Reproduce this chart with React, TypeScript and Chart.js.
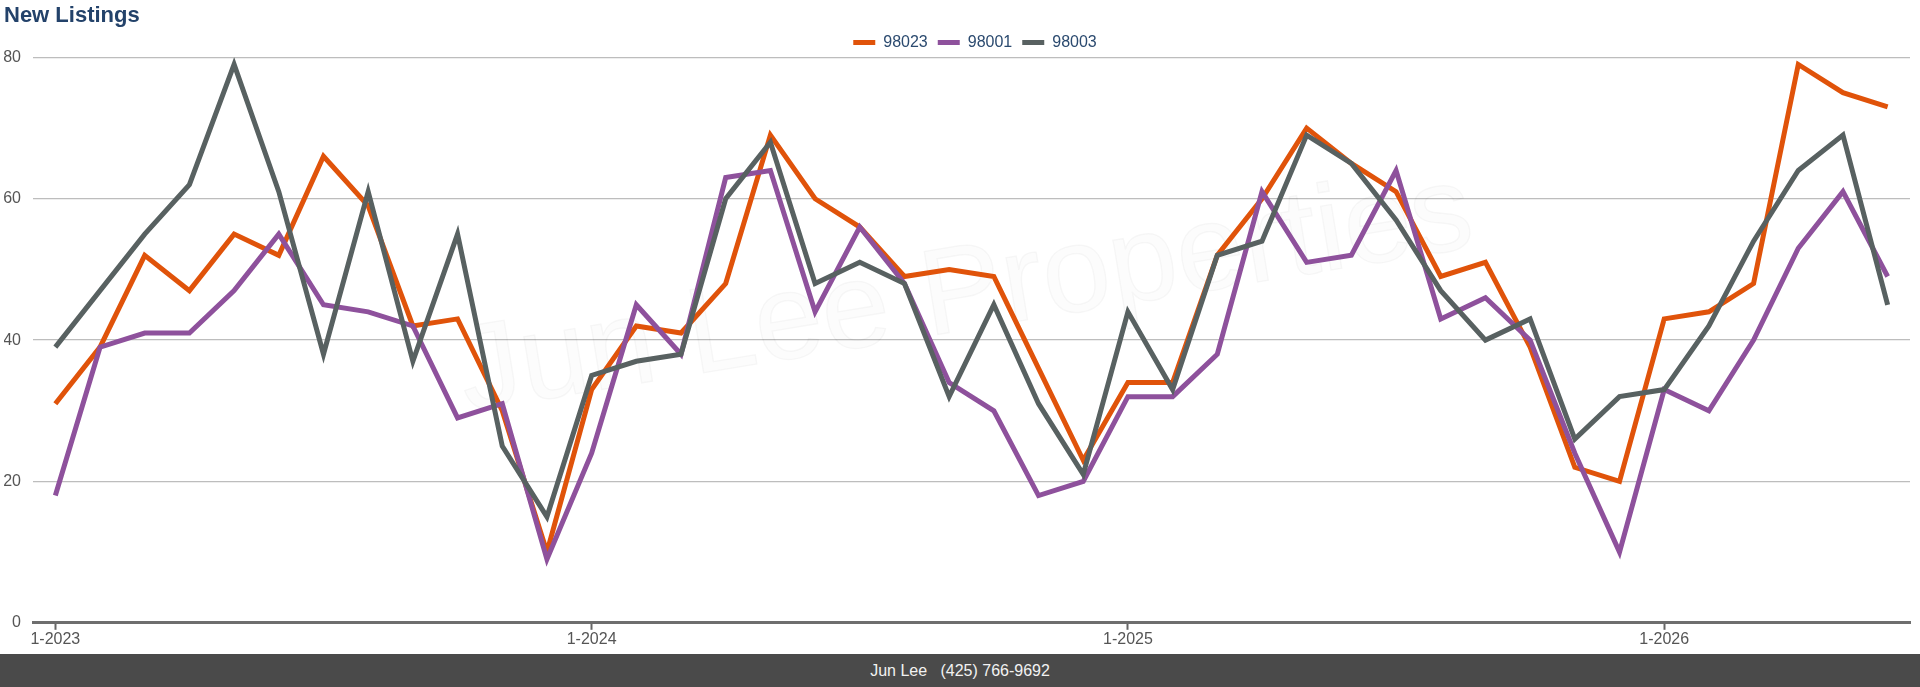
import React, { useEffect, useRef } from 'react';
import { Chart, registerables } from 'chart.js';

Chart.register(...registerables);

const monthLabels = [
  '1-2023', '2-2023', '3-2023', '4-2023', '5-2023', '6-2023', '7-2023', '8-2023', '9-2023', '10-2023', '11-2023', '12-2023',
  '1-2024', '2-2024', '3-2024', '4-2024', '5-2024', '6-2024', '7-2024', '8-2024', '9-2024', '10-2024', '11-2024', '12-2024',
  '1-2025', '2-2025', '3-2025', '4-2025', '5-2025', '6-2025', '7-2025', '8-2025', '9-2025', '10-2025', '11-2025', '12-2025',
  '1-2026', '2-2026', '3-2026', '4-2026', '5-2026', '6-2026',
];

const yearTickLabels = ['1-2023', '1-2024', '1-2025', '1-2026'];

const zip98023 = [
  31, 39, 52, 47, 55, 52, 66, 59, 42, 43, 30, 10,
  33, 42, 41, 48, 69, 60, 56, 49, 50, 49, 36, 23,
  34, 34, 52, 60, 70, 65, 61, 49, 51, 39, 22, 20,
  43, 44, 48, 79, 75, 73,
];

const zip98001 = [
  18, 39, 41, 41, 47, 55, 45, 44, 42, 29, 31, 9,
  24, 45, 38, 63, 64, 44, 56, 48, 34, 30, 18, 20,
  32, 32, 38, 61, 51, 52, 64, 43, 46, 40, 24, 10,
  33, 30, 40, 53, 61, 49,
];

const zip98003 = [
  39, 47, 55, 62, 79, 61, 38, 61, 37, 55, 25, 15,
  35, 37, 38, 60, 68, 48, 51, 48, 32, 45, 31, 21,
  44, 33, 52, 54, 69, 65, 57, 47, 40, 43, 26, 32,
  33, 42, 54, 64, 69, 45,
];

const seriesNames = ['98023', '98001', '98003'];
const seriesColors = ['#E0530A', '#8E519C', '#586161'];
const seriesValues = [zip98023, zip98001, zip98003];

const yMin = 0;
const yMax = 80;
const yStep = 20;

const titleText = 'New Listings';
const footerText = 'Jun Lee   (425) 766-9692';
const watermarkText = 'Jun Lee Properties';

const FONT = '"Liberation Sans", Arial, Helvetica, sans-serif';

const watermarkPlugin = {
  id: 'watermark',
  beforeDatasetsDraw(chart: any) {
    const ctx = chart.ctx as CanvasRenderingContext2D;
    const area = chart.chartArea;
    const cx = (area.left + area.right) / 2;
    const cy = area.top + (area.bottom - area.top) * 0.48;
    ctx.save();
    ctx.translate(cx, cy);
    ctx.rotate((-9.3 * Math.PI) / 180);
    ctx.font = `122px ${FONT}`;
    ctx.textAlign = 'center';
    ctx.textBaseline = 'alphabetic';
    ctx.fillStyle = 'rgba(0,0,0,0.012)';
    ctx.fillText(watermarkText, 0, 0);
    ctx.lineWidth = 1.5;
    ctx.strokeStyle = 'rgba(0,0,0,0.035)';
    ctx.strokeText(watermarkText, 0, 0);
    ctx.restore();
  },
};

const legendShiftPlugin = {
  id: 'legendShift',
  afterLayout(chart: any) {
    const lg = chart.legend;
    if (lg) {
      lg.left += 18;
      lg.right += 18;
    }
  },
};

export default function App() {
  const canvasRef = useRef<HTMLCanvasElement | null>(null);

  useEffect(() => {
    if (!canvasRef.current) return;
    const chart = new Chart(canvasRef.current, {
      type: 'line',
      data: {
        labels: monthLabels,
        datasets: seriesValues.map((vals, i) => ({
          label: seriesNames[i],
          data: vals,
          borderColor: seriesColors[i],
          backgroundColor: seriesColors[i],
          borderWidth: 5,
          pointRadius: 0,
          pointHoverRadius: 0,
          tension: 0,
          fill: false,
          order: seriesValues.length - i,
        })),
      },
      options: {
        animation: false,
        responsive: true,
        maintainAspectRatio: false,
        layout: { padding: { left: 4, right: 10, top: 0, bottom: 5 } },
        plugins: {
          tooltip: { enabled: false },
          title: {
            display: true,
            text: titleText,
            align: 'start',
            color: '#23426a',
            font: { family: FONT, size: 22, weight: 'bold' },
            padding: { top: 3, bottom: -5 },
          },
          legend: {
            display: true,
            position: 'top',
            align: 'center',
            maxHeight: 33,
            labels: {
              boxWidth: 22,
              boxHeight: 5,
              padding: 10,
              color: '#2b4a6f',
              font: { family: FONT, size: 16 },
              sort: (a: any, b: any) => a.datasetIndex - b.datasetIndex,
              generateLabels: (chart: any) => {
                const items = Chart.defaults.plugins.legend.labels.generateLabels(chart);
                return items.map((it: any) => ({ ...it, lineWidth: 0 }));
              },
            },
          },
        },
        scales: {
          x: {
            type: 'category',
            offset: true,
            grid: {
              offset: false,
              drawOnChartArea: false,
              drawTicks: true,
              tickLength: 7,
              tickWidth: 2,
              tickColor: (ctx: any) =>
                yearTickLabels.includes(monthLabels[ctx.index]) ? '#666666' : 'rgba(0,0,0,0)',
            },
            border: { display: true, color: '#6e6e6e', width: 3 },
            ticks: {
              autoSkip: false,
              maxRotation: 0,
              minRotation: 0,
              padding: 0,
              color: '#555555',
              font: { family: FONT, size: 16 },
              callback: (value: any) => {
                const lab = monthLabels[value as number];
                return yearTickLabels.includes(lab) ? lab : '';
              },
            },
          },
          y: {
            min: yMin,
            max: yMax,
            afterFit: (scale: any) => {
              scale.width = 29;
            },
            grid: {
              color: '#bdbdbd',
              lineWidth: 1.3,
              drawTicks: false,
            },
            border: { display: false },
            ticks: {
              stepSize: yStep,
              padding: 12,
              color: '#555555',
              font: { family: FONT, size: 16 },
            },
          },
        },
      },
      plugins: [watermarkPlugin, legendShiftPlugin],
    } as any);
    return () => chart.destroy();
  }, []);

  return (
    <div style={{ position: 'absolute', left: 0, top: 0, width: 1920, height: 687, background: '#ffffff', overflow: 'hidden' }}>
      <div style={{ position: 'absolute', left: 0, top: 0, width: 1920, height: 654 }}>
        <canvas ref={canvasRef} />
      </div>
      <div
        style={{
          position: 'absolute',
          left: 0,
          top: 654,
          width: 1920,
          height: 33,
          background: '#4a4a4a',
          color: '#f2f2f2',
          fontFamily: FONT,
          fontSize: 16,
          lineHeight: '33px',
          textAlign: 'center',
          whiteSpace: 'pre',
        }}
      >
        {footerText}
      </div>
    </div>
  );
}
